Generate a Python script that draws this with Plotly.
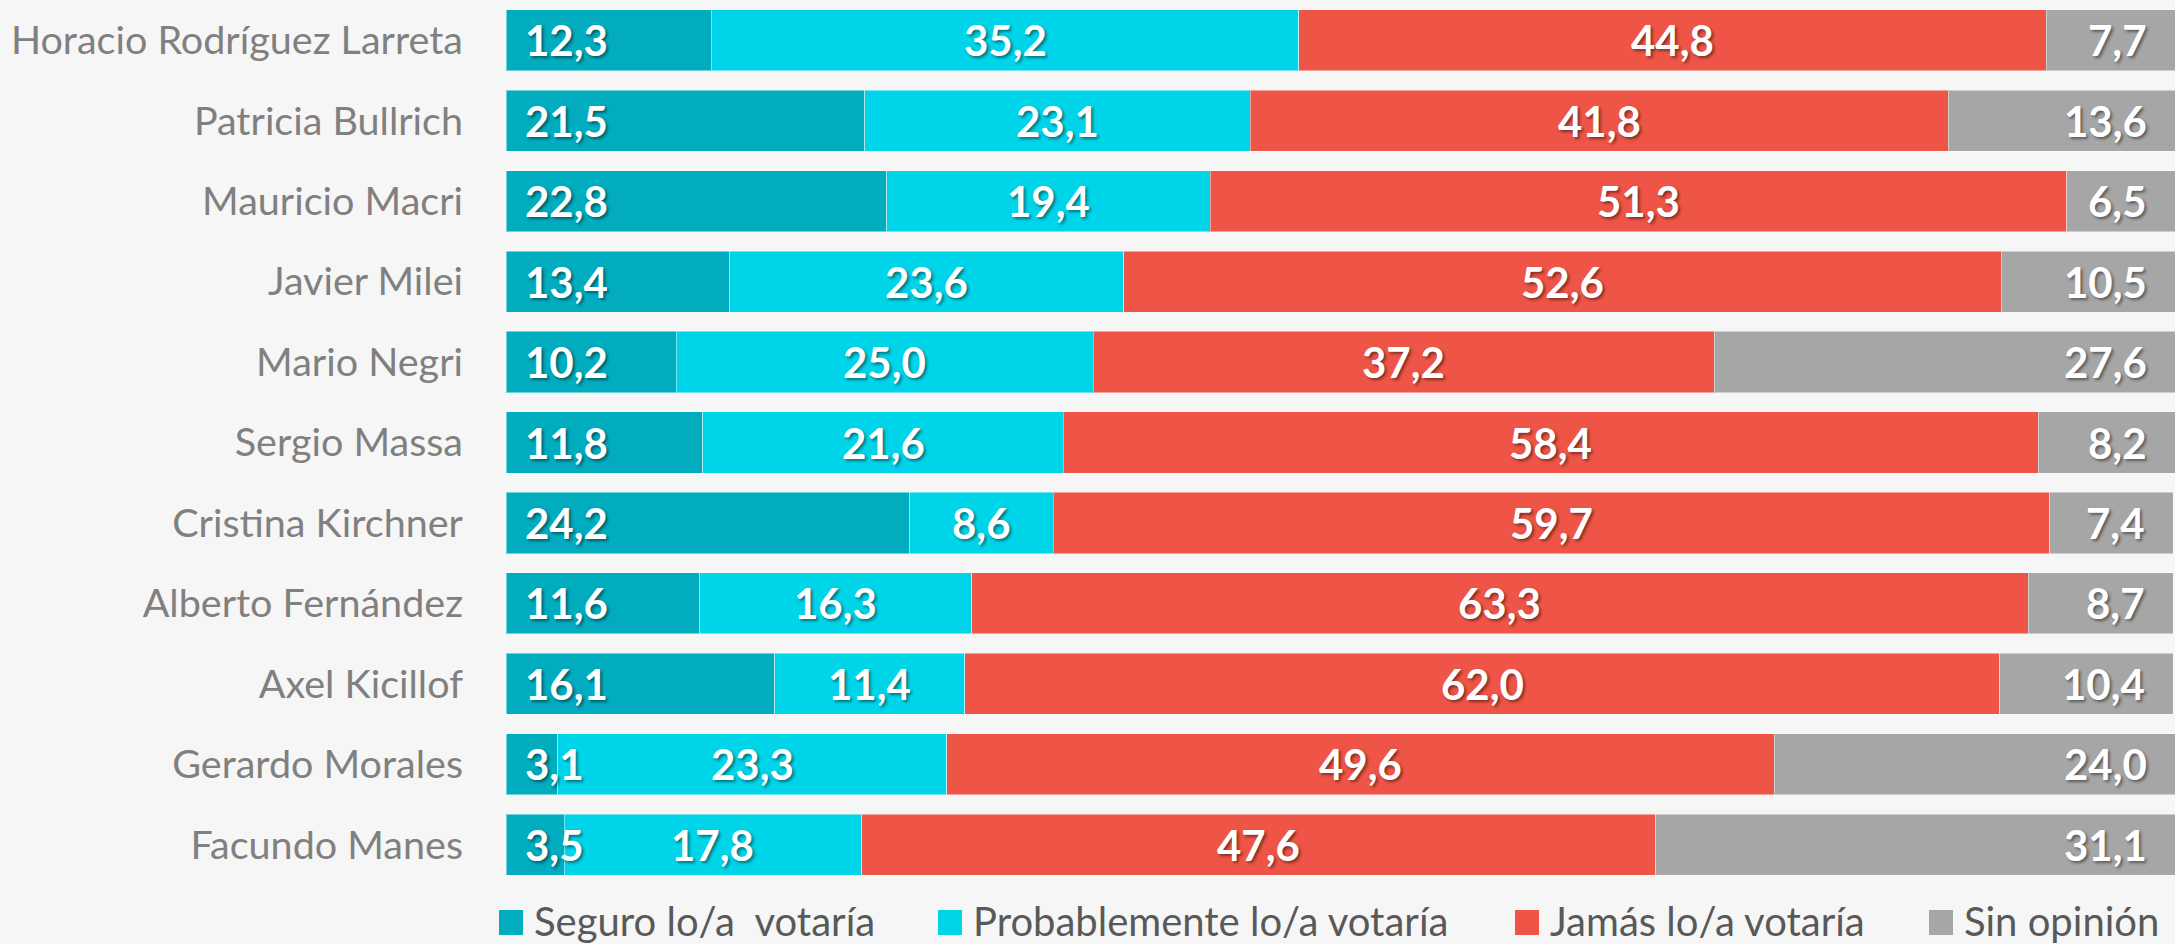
import plotly.graph_objs as go

candidatos = ['Horacio Rodríguez Larreta', 'Patricia Bullrich', 'Mauricio Macri', 'Javier Milei',
              'Mario Negri', 'Sergio Massa', 'Cristina Kirchner', 'Alberto Fernández',
              'Axel Kicillof', 'Gerardo Morales', 'Facundo Manes']

seguro = [12.3, 21.5, 22.8, 13.4, 10.2, 11.8, 24.2, 11.6, 16.1, 3.1, 3.5]
probable = [35.2, 23.1, 19.4, 23.6, 25.0, 21.6, 8.6, 16.3, 11.4, 23.3, 17.8]
jamas = [44.8, 41.8, 51.3, 52.6, 37.2, 58.4, 59.7, 63.3, 62.0, 49.6, 47.6]
sin_opinion = [7.7, 13.6, 6.5, 10.5, 27.6, 8.2, 7.4, 8.7, 10.4, 24.0, 31.1]

series = [
    ('Seguro lo/a\u00a0 votaría', seguro, '#00ACBE'),
    ('Probablemente lo/a votaría', probable, '#00D4E9'),
    ('Jamás lo/a votaría', jamas, '#EE5546'),
    ('Sin opinión', sin_opinion, '#A6A6A6'),
]

FONT = 'Lato'
W, H = 2175, 944
ML, MB = 506, 59
PW, PH = W - ML, H - MB

fig = go.Figure()
for name, vals, color in series:
    fig.add_trace(go.Bar(
        y=candidatos, x=vals, name=name, orientation='h',
        marker=dict(color=color, line=dict(color='rgba(255,255,255,0.45)', width=1)),
        hoverinfo='x+y', showlegend=False,
    ))

# value labels: first left, middle two centered, last right
label_font = dict(family=FONT, size=42, color='white', weight='bold',
                  shadow='2px 2px 3px rgba(0,0,0,0.45)')
annotations = []
for i, cand in enumerate(candidatos):
    start = 0.0
    for k, (name, vals, color) in enumerate(series):
        v = vals[i]
        txt = f'{v:.1f}'.replace('.', ',')
        if k == 0:
            x, anchor, shift = start, 'left', 17
        elif k == len(series) - 1:
            x, anchor, shift = min(start + v, 100), 'right', -26
        else:
            x, anchor, shift = start + v / 2, 'center', 0
        annotations.append(dict(x=x, y=cand, text=txt, xanchor=anchor, xshift=shift,
                                yanchor='middle', showarrow=False, font=label_font))
        start += v

# legend drawn by hand so the item spacing matches the original
legend_left = [499, 938, 1515, 1929]   # px from the left of the figure
shapes = []
for (name, vals, color), px in zip(series, legend_left):
    x0 = (px - ML) / PW
    x1 = (px + 24 - ML) / PW
    shapes.append(dict(type='rect', xref='paper', yref='paper', x0=x0, x1=x1,
                       y0=(PH - 935) / PH, y1=(PH - 910) / PH,
                       fillcolor=color, line=dict(width=0)))
    annotations.append(dict(x=(px + 33 - ML) / PW, y=(PH - 921) / PH, xref='paper', yref='paper',
                            text=name, xanchor='left', yanchor='middle', showarrow=False,
                            font=dict(family=FONT, size=40, color='#595959')))

fig.update_layout(
    barmode='stack',
    bargap=0.24,
    width=W, height=H,
    margin=dict(l=ML, r=0, t=0, b=MB, autoexpand=False),
    paper_bgcolor='#F6F6F6',
    plot_bgcolor='#F6F6F6',
    font=dict(family=FONT),
    xaxis=dict(range=[0, 100], visible=False, fixedrange=True),
    yaxis=dict(categoryorder='array', categoryarray=candidatos, autorange='reversed',
               tickfont=dict(family=FONT, size=39.5, color='#808080'),
               ticklabelstandoff=42, showgrid=False, zeroline=False, showline=False, ticks='',
               automargin=False, fixedrange=True),
    annotations=annotations,
    shapes=shapes,
    showlegend=False,
)

fig.write_html('out.html', config={'displayModeBar': False},
               post_script="document.body.style.margin='0';")
